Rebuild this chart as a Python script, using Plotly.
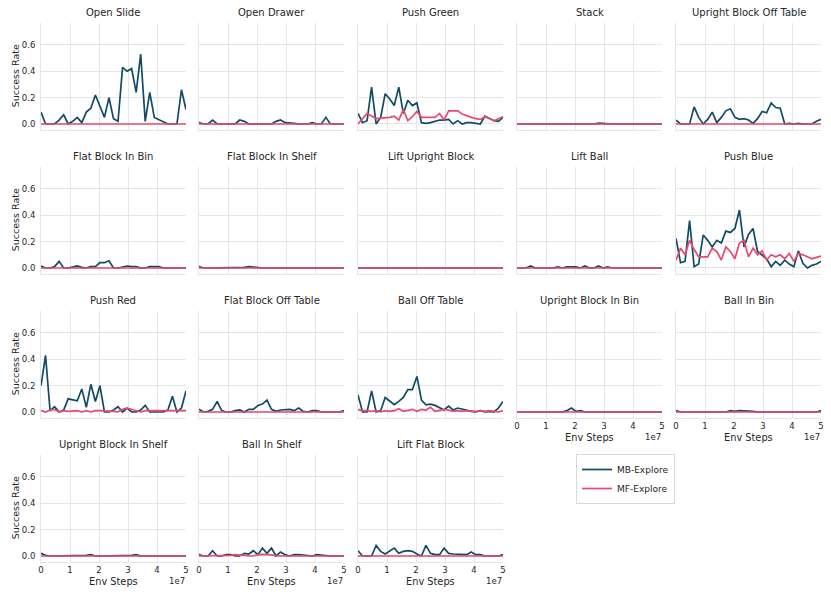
import plotly.graph_objects as go
from plotly.subplots import make_subplots

# env steps (millions) at which each success rate was logged
STEPS_M = [0, 1.5625, 3.125, 4.6875, 6.25, 7.8125, 9.375, 10.9375, 12.5, 14.0625,
           15.625, 17.1875, 18.75, 20.3125, 21.875, 23.4375, 25, 26.5625, 28.125,
           29.6875, 31.25, 32.8125, 34.375, 35.9375, 37.5, 39.0625, 40.625, 42.1875,
           43.75, 45.3125, 46.875, 48.4375, 50]
STEPS = [s * 1e6 for s in STEPS_M]

ZEROS = [0.0, 0.0, 0.0, 0.0, 0.0, 0.0, 0.0, 0.0, 0.0, 0.0, 0.0, 0.0, 0.0, 0.0, 0.0, 0.0, 0.0,
         0.0, 0.0, 0.0, 0.0, 0.0, 0.0, 0.0, 0.0, 0.0, 0.0, 0.0, 0.0, 0.0, 0.0, 0.0, 0.0]

OPEN_SLIDE_MB = [0.09, 0.0, 0.0, 0.0, 0.03, 0.07, 0.0, 0.02, 0.05, 0.01, 0.09, 0.12, 0.22, 0.13,
                 0.05, 0.20, 0.04, 0.02, 0.43, 0.40, 0.42, 0.24, 0.53, 0.02, 0.24, 0.05, 0.035,
                 0.02, 0.0, 0.0, 0.0, 0.26, 0.11]
OPEN_DRAWER_MB = [0.01, 0.0, 0.0, 0.03, 0.0, 0.0, 0.0, 0.0, 0.0, 0.03, 0.02, 0.0, 0.0, 0.0, 0.0,
                  0.0, 0.0, 0.02, 0.03, 0.01, 0.01, 0.005, 0.0, 0.0, 0.0, 0.01, 0.0, 0.0, 0.05,
                  0.0, 0.0, 0.0, 0.0]
PUSH_GREEN_MB = [0.08, 0.01, 0.025, 0.28, 0.0, 0.05, 0.23, 0.19, 0.14, 0.28, 0.08, 0.18, 0.14,
                 0.16, 0.01, 0.005, 0.01, 0.02, 0.03, 0.03, 0.035, 0.0, 0.025, 0.0, 0.01, 0.01,
                 0.005, 0.0, 0.06, 0.045, 0.025, 0.02, 0.05]
PUSH_GREEN_MF = [0.0, 0.04, 0.08, 0.06, 0.04, 0.045, 0.045, 0.05, 0.06, 0.03, 0.11, 0.025, 0.055,
                 0.095, 0.05, 0.05, 0.05, 0.05, 0.08, 0.03, 0.1, 0.1, 0.1, 0.075, 0.06, 0.05,
                 0.04, 0.035, 0.055, 0.04, 0.025, 0.04, 0.055]
STACK_MB = [0.0, 0.0, 0.0, 0.0, 0.0, 0.0, 0.0, 0.0, 0.0, 0.0, 0.0, 0.0, 0.0, 0.0, 0.0, 0.0, 0.0,
            0.0, 0.006, 0.003, 0.0, 0.0, 0.0, 0.0, 0.0, 0.0, 0.0, 0.0, 0.0, 0.0, 0.0, 0.0, 0.0]
UPRIGHT_OFF_TABLE_MB = [0.03, 0.0, 0.0, 0.0, 0.13, 0.05, 0.0, 0.035, 0.09, 0.01, 0.05, 0.1,
                        0.115, 0.05, 0.035, 0.04, 0.03, 0.005, 0.04, 0.095, 0.085, 0.16, 0.125,
                        0.12, 0.0, 0.005, 0.0, 0.005, 0.0, 0.0, 0.0, 0.02, 0.035]

FLAT_IN_BIN_MB = [0.015, 0.0, 0.0, 0.01, 0.05, 0.0, 0.0, 0.005, 0.015, 0.005, 0.0, 0.01, 0.01,
                  0.04, 0.04, 0.055, 0.0, 0.0, 0.01, 0.015, 0.01, 0.01, 0.0, 0.0, 0.01, 0.01,
                  0.01, 0.0, 0.0, 0.0, 0.0, 0.0, 0.0]
FLAT_IN_SHELF_MB = [0.01, 0.0, 0.0, 0.0, 0.0, 0.0, 0.0, 0.0, 0.0, 0.0, 0.005, 0.01, 0.005, 0.0,
                    0.0, 0.0, 0.0, 0.0, 0.0, 0.0, 0.0, 0.0, 0.0, 0.0, 0.0, 0.0, 0.0, 0.0, 0.0,
                    0.0, 0.0, 0.0, 0.0]
LIFT_BALL_MB = [0.0, 0.0, 0.0, 0.015, 0.0, 0.0, 0.0, 0.0, 0.0, 0.008, 0.0, 0.008, 0.01, 0.008,
                0.0, 0.015, 0.0, 0.0, 0.015, 0.0, 0.008, 0.0, 0.0, 0.0, 0.0, 0.0, 0.0, 0.0, 0.0,
                0.0, 0.0, 0.0, 0.0]
PUSH_BLUE_MB = [0.225, 0.04, 0.05, 0.36, 0.01, 0.03, 0.25, 0.21, 0.16, 0.21, 0.19, 0.28, 0.27,
                0.30, 0.44, 0.16, 0.255, 0.30, 0.125, 0.10, 0.07, 0.01, 0.05, 0.02, 0.06, 0.03,
                0.01, 0.13, 0.035, 0.0, 0.02, 0.03, 0.05]
PUSH_BLUE_MF = [0.06, 0.15, 0.10, 0.21, 0.14, 0.085, 0.085, 0.085, 0.15, 0.125, 0.06, 0.16,
                0.125, 0.07, 0.19, 0.21, 0.085, 0.15, 0.10, 0.13, 0.06, 0.10, 0.085, 0.10, 0.07,
                0.11, 0.05, 0.11, 0.10, 0.085, 0.07, 0.08, 0.09]

PUSH_RED_MB = [0.2, 0.43, 0.01, 0.04, 0.0, 0.015, 0.10, 0.09, 0.085, 0.175, 0.035, 0.21, 0.08,
               0.20, 0.0, 0.0, 0.015, 0.04, 0.0, 0.03, 0.0, 0.0, 0.015, 0.05, 0.0, 0.0, 0.0,
               0.0, 0.015, 0.12, 0.0, 0.03, 0.16]
PUSH_RED_MF = [0.01, 0.0, 0.015, 0.02, 0.0, 0.01, 0.005, 0.005, 0.01, 0.0, 0.01, 0.0, 0.01,
               0.01, 0.01, 0.01, 0.005, 0.0, 0.02, 0.03, 0.02, 0.01, 0.0, 0.01, 0.01, 0.01, 0.01,
               0.01, 0.01, 0.01, 0.01, 0.01, 0.01]
FLAT_OFF_TABLE_MB = [0.02, 0.0, 0.005, 0.02, 0.08, 0.01, 0.0, 0.0, 0.01, 0.015, 0.0, 0.02, 0.02,
                     0.05, 0.06, 0.09, 0.02, 0.005, 0.015, 0.02, 0.02, 0.01, 0.03, 0.005, 0.0,
                     0.01, 0.01, 0.0, 0.0, 0.0, 0.0, 0.0, 0.01]
BALL_OFF_TABLE_MB = [0.13, 0.0, 0.0, 0.16, 0.0, 0.01, 0.11, 0.085, 0.055, 0.08, 0.11, 0.17, 0.17,
                     0.27, 0.09, 0.055, 0.06, 0.05, 0.03, 0.015, 0.045, 0.015, 0.03, 0.02, 0.01,
                     0.005, 0.0, 0.01, 0.0, 0.005, 0.0, 0.03, 0.08]
BALL_OFF_TABLE_MF = [0.02, 0.01, 0.01, 0.005, 0.01, 0.0, 0.01, 0.005, 0.01, 0.025, 0.005, 0.01,
                     0.02, 0.005, 0.02, 0.015, 0.035, 0.005, 0.01, 0.02, 0.015, 0.005, 0.01,
                     0.005, 0.01, 0.005, 0.005, 0.01, 0.005, 0.01, 0.005, 0.0, 0.01]
UPRIGHT_IN_BIN_MB = [0.0, 0.0, 0.0, 0.0, 0.0, 0.0, 0.0, 0.0, 0.0, 0.0, 0.0, 0.01, 0.03, 0.005,
                     0.01, 0.0, 0.0, 0.0, 0.0, 0.0, 0.0, 0.0, 0.0, 0.0, 0.0, 0.0, 0.0, 0.0, 0.0,
                     0.0, 0.0, 0.0, 0.0]
BALL_IN_BIN_MB = [0.01, 0.0, 0.0, 0.0, 0.0, 0.0, 0.0, 0.0, 0.0, 0.0, 0.0, 0.0, 0.01, 0.005, 0.01,
                  0.01, 0.005, 0.005, 0.0, 0.0, 0.0, 0.0, 0.0, 0.0, 0.0, 0.0, 0.0, 0.0, 0.0, 0.0,
                  0.0, 0.0, 0.01]

UPRIGHT_IN_SHELF_MB = [0.02, 0.005, 0.0, 0.0, 0.0, 0.0, 0.0, 0.0, 0.0, 0.0, 0.005, 0.01, 0.0,
                       0.0, 0.0, 0.0, 0.0, 0.0, 0.0, 0.0, 0.005, 0.01, 0.0, 0.0, 0.0, 0.0, 0.0,
                       0.0, 0.0, 0.0, 0.0, 0.0, 0.0]
BALL_IN_SHELF_MB = [0.01, 0.0, 0.0, 0.04, 0.0, 0.0, 0.01, 0.01, 0.0, 0.0, 0.02, 0.015, 0.04,
                    0.01, 0.06, 0.02, 0.06, 0.0, 0.03, 0.01, 0.0, 0.01, 0.01, 0.005, 0.0, 0.0,
                    0.01, 0.005, 0.0, 0.0, 0.0, 0.0, 0.0]
BALL_IN_SHELF_MF = [0.0, 0.0, 0.0, 0.0, 0.0, 0.0, 0.0, 0.005, 0.01, 0.005, 0.0, 0.0, 0.0, 0.01,
                    0.012, 0.01, 0.008, 0.0, 0.0, 0.0, 0.0, 0.0, 0.0, 0.0, 0.0, 0.0, 0.0, 0.0,
                    0.0, 0.0, 0.0, 0.0, 0.0]
LIFT_FLAT_MB = [0.04, 0.0, 0.0, 0.0, 0.08, 0.035, 0.015, 0.035, 0.06, 0.02, 0.035, 0.04, 0.035,
                0.015, 0.0, 0.08, 0.02, 0.01, 0.01, 0.06, 0.02, 0.015, 0.015, 0.015, 0.01, 0.03,
                0.01, 0.01, 0.0, 0.0, 0.0, 0.0, 0.01]

TASKS = [
    ("Open Slide", OPEN_SLIDE_MB, ZEROS),
    ("Open Drawer", OPEN_DRAWER_MB, ZEROS),
    ("Push Green", PUSH_GREEN_MB, PUSH_GREEN_MF),
    ("Stack", STACK_MB, ZEROS),
    ("Upright Block Off Table", UPRIGHT_OFF_TABLE_MB, ZEROS),
    ("Flat Block In Bin", FLAT_IN_BIN_MB, ZEROS),
    ("Flat Block In Shelf", FLAT_IN_SHELF_MB, ZEROS),
    ("Lift Upright Block", ZEROS, ZEROS),
    ("Lift Ball", LIFT_BALL_MB, ZEROS),
    ("Push Blue", PUSH_BLUE_MB, PUSH_BLUE_MF),
    ("Push Red", PUSH_RED_MB, PUSH_RED_MF),
    ("Flat Block Off Table", FLAT_OFF_TABLE_MB, ZEROS),
    ("Ball Off Table", BALL_OFF_TABLE_MB, BALL_OFF_TABLE_MF),
    ("Upright Block In Bin", UPRIGHT_IN_BIN_MB, ZEROS),
    ("Ball In Bin", BALL_IN_BIN_MB, ZEROS),
    ("Upright Block In Shelf", UPRIGHT_IN_SHELF_MB, ZEROS),
    ("Ball In Shelf", BALL_IN_SHELF_MB, BALL_IN_SHELF_MF),
    ("Lift Flat Block", LIFT_FLAT_MB, ZEROS),
]
X_TICKS = [0, 1e7, 2e7, 3e7, 4e7, 5e7]
X_TICK_TEXT = ["0", "1", "2", "3", "4", "5"]
Y_TICKS = [0.0, 0.2, 0.4, 0.6]
Y_TICK_TEXT = ["0.0", "0.2", "0.4", "0.6"]

W, H = 831, 597
COL_LEFT = [41, 199, 358, 517, 676]
PANEL_W = 145
ROW_TOP = [22.6, 166.6, 310.6, 454.6]
PANEL_H = 107.3
MB_COLOR = "#114a66"
MF_COLOR = "#e9496f"
TXT = "#262626"
GRID = "#e6e6e6"
FONT = "DejaVu Sans"

def px(x):
    return x / W

def py(y):
    return 1 - y / H

fig = make_subplots(rows=4, cols=5)
annotations = []

for i, (name, mb, mf) in enumerate(TASKS):
    r, c = i // 5 + 1, i % 5 + 1
    fig.add_trace(go.Scatter(x=STEPS, y=mb, mode="lines", name="MB-Explore",
                             line=dict(color=MB_COLOR, width=1.7),
                             legendgroup="mb", showlegend=(i == 0)), row=r, col=c)
    fig.add_trace(go.Scatter(x=STEPS, y=mf, mode="lines", name="MF-Explore",
                             line=dict(color=MF_COLOR, width=1.7),
                             legendgroup="mf", showlegend=(i == 0)), row=r, col=c)

    left = COL_LEFT[c - 1]
    top = ROW_TOP[r - 1]
    bottom = top + PANEL_H
    # bottom panel of each column carries the x labels
    is_bottom = (r == 4) or (r == 3 and c >= 4)

    fig.update_xaxes(domain=[px(left), px(left + PANEL_W)], range=[0, 5e7],
                     tickvals=X_TICKS, ticktext=X_TICK_TEXT, showticklabels=is_bottom,
                     showgrid=True, gridcolor=GRID, gridwidth=1, zeroline=False,
                     showline=True, linecolor=GRID, linewidth=1, mirror=False,
                     automargin=False,
                     tickfont=dict(size=8.5, color=TXT, family=FONT),
                     row=r, col=c)
    fig.update_yaxes(domain=[py(bottom), py(top)], range=[-0.045, 0.77],
                     tickvals=Y_TICKS, ticktext=Y_TICK_TEXT, showticklabels=(c == 1),
                     showgrid=True, gridcolor=GRID, gridwidth=1, zeroline=False,
                     showline=True, linecolor=GRID, linewidth=1,
                     ticklabelstandoff=3, automargin=False,
                     tickfont=dict(size=8.5, color=TXT, family=FONT),
                     row=r, col=c)

    annotations.append(dict(text=name, x=px(left + PANEL_W / 2), y=py(top - 3),
                            xref="paper", yref="paper", xanchor="center", yanchor="bottom",
                            showarrow=False, font=dict(size=10, color=TXT, family=FONT)))
    if c == 1:
        annotations.append(dict(text="Success Rate", x=px(15), y=py(top + PANEL_H / 2),
                                xref="paper", yref="paper", xanchor="center", yanchor="middle",
                                textangle=-90, showarrow=False,
                                font=dict(size=9.5, color=TXT, family=FONT)))
    if is_bottom:
        annotations.append(dict(text="Env Steps", x=px(left + PANEL_W / 2), y=py(bottom + 20),
                                xref="paper", yref="paper", xanchor="center", yanchor="middle",
                                showarrow=False, font=dict(size=9.8, color=TXT, family=FONT)))
        annotations.append(dict(text="1e7", x=px(left + PANEL_W + 1), y=py(bottom + 19),
                                xref="paper", yref="paper", xanchor="right", yanchor="middle",
                                showarrow=False, font=dict(size=8.5, color=TXT, family=FONT)))

# the two unused cells in the last row
for c in (4, 5):
    fig.update_xaxes(visible=False, row=4, col=c)
    fig.update_yaxes(visible=False, row=4, col=c)

fig.update_layout(
    width=W, height=H,
    margin=dict(l=0, r=0, t=0, b=0, autoexpand=False),
    plot_bgcolor="white", paper_bgcolor="white",
    font=dict(family=FONT, color=TXT),
    annotations=annotations,
    legend=dict(x=px(576), y=py(454), xanchor="left", yanchor="top",
                bordercolor="#d9d9d9", borderwidth=1, bgcolor="white",
                font=dict(size=9, color=TXT, family=FONT),
                itemwidth=30, tracegroupgap=0),
)

# drop the browser's default body margin so the figure sits at the page origin
fig.write_html("out.html", config={"displayModeBar": False},
               post_script="document.body.style.margin='0px';")
